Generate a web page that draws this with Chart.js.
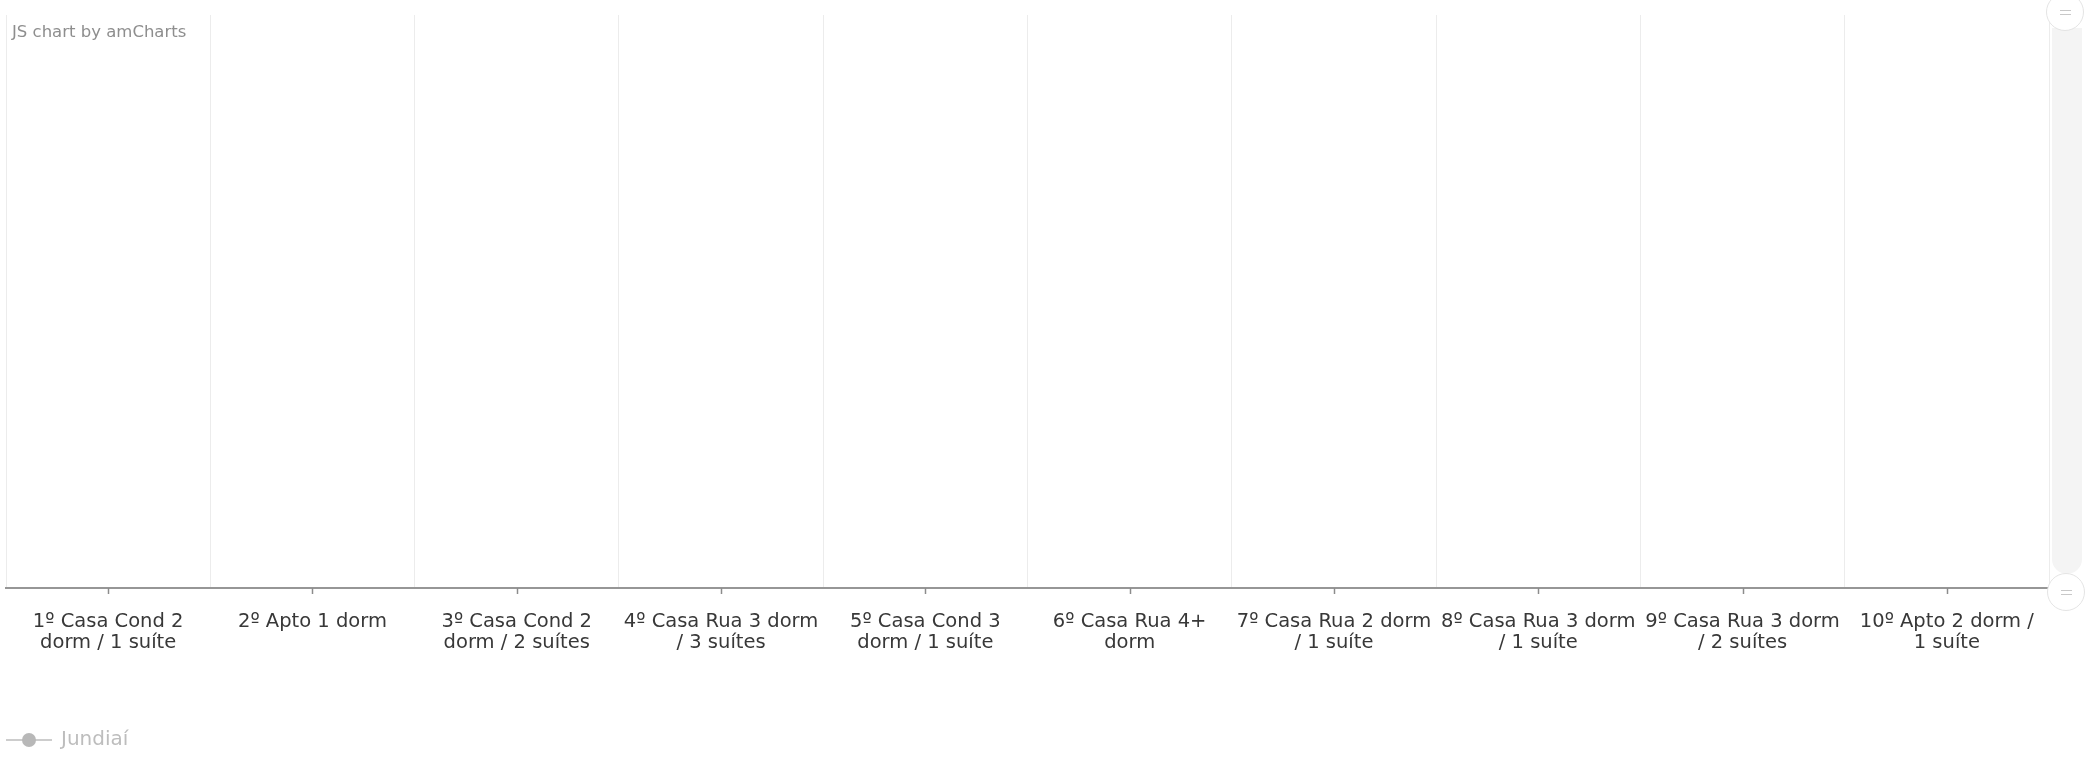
<!DOCTYPE html>
<html>
<head>
<meta charset="utf-8">
<script src="https://cdn.jsdelivr.net/npm/chart.js@4"></script>
<style>
  html, body { margin: 0; padding: 0; background: #fff; }
  #wrap { position: relative; width: 2087px; height: 763px; }
  #credit {
    position: absolute; left: 12px; top: 22px;
    font: 16.5px "DejaVu Sans", sans-serif; color: #8e8e8e;
  }
  .track {
    position: absolute; left: 2052px; top: 28px; width: 30px; height: 546px;
    background: #f4f4f4; border-radius: 0 0 15px 15px;
  }
  .grip {
    position: absolute; width: 38px; height: 38px; border-radius: 50%;
    background: #fff; border: 1px solid #e4e4e4; box-sizing: border-box;
  }
  .grip:before, .grip:after {
    content: ""; position: absolute; left: 13px; width: 11px; height: 1px; background: #c8c8c8;
  }
  .grip:before { top: 16px; }
  .grip:after { top: 20px; }
</style>
</head>
<body>
<div id="wrap">
  <canvas id="chart"></canvas>
  <div id="credit">JS chart by amCharts</div>
  <div class="track"></div>
  <div class="grip" style="left:2046px; top:-7px;"></div>
  <div class="grip" style="left:2047px; top:573px;"></div>
</div>
<script>
// categories (wrapped the way the labels appear)
let categories = [
  ["1º Casa Cond 2", "dorm / 1 suíte"],
  ["2º Apto 1 dorm"],
  ["3º Casa Cond 2", "dorm / 2 suítes"],
  ["4º Casa Rua 3 dorm", "/ 3 suítes"],
  ["5º Casa Cond 3", "dorm / 1 suíte"],
  ["6º Casa Rua 4+", "dorm"],
  ["7º Casa Rua 2 dorm", "/ 1 suíte"],
  ["8º Casa Rua 3 dorm", "/ 1 suíte"],
  ["9º Casa Rua 3 dorm", "/ 2 suítes"],
  ["10º Apto 2 dorm /", "1 suíte"],
];
// series is switched off in the legend, so no values are visible
let seriesName = "Jundiaí";
let jundiaiValues = [null, null, null, null, null, null, null, null, null, null];

// legend marker: short line with a dot in the middle
function makeMarker() {
  let c = document.createElement("canvas");
  c.width = 46;
  c.height = 16;
  let ctx = c.getContext("2d");
  ctx.strokeStyle = "#bdbdbd";
  ctx.lineWidth = 1.5;
  ctx.beginPath();
  ctx.moveTo(0, 8);
  ctx.lineTo(46, 8);
  ctx.stroke();
  ctx.fillStyle = "#b8b8b8";
  ctx.beginPath();
  ctx.arc(23, 8, 7, 0, Math.PI * 2);
  ctx.fill();
  return c;
}
let marker = makeMarker();

// small tick marks under the axis at every category centre
const centreTicks = {
  id: "centreTicks",
  afterDraw(chart) {
    let scale = chart.scales.x;
    let ctx = chart.ctx;
    ctx.save();
    ctx.strokeStyle = "#8c8c8c";
    ctx.lineWidth = 1.5;
    for (let i = 0; i < categories.length; i++) {
      let x = Math.round(scale.getPixelForTick(i)) + 0.5;
      ctx.beginPath();
      ctx.moveTo(x, scale.top);
      ctx.lineTo(x, scale.top + 6);
      ctx.stroke();
    }
    ctx.restore();
  },
};

Chart.defaults.font.family = '"DejaVu Sans", sans-serif';

let chart = new Chart("chart", {
  type: "line",
  data: {
    labels: categories,
    datasets: [
      {
        label: seriesName,
        data: jundiaiValues,
        hidden: true,
        borderColor: "#67b7dc",
        backgroundColor: "#67b7dc",
        pointStyle: "circle",
      },
    ],
  },
  plugins: [centreTicks],
  options: {
    responsive: true,
    maintainAspectRatio: false,
    animation: false,
    layout: {
      padding: { left: 6, right: 38, top: 15, bottom: 3 },
    },
    scales: {
      x: {
        offset: true,
        grid: {
          offset: true,
          color: "#ececec",
          lineWidth: 1,
          drawTicks: false,
        },
        border: { color: "#969696", width: 2 },
        ticks: {
          color: "#383838",
          padding: 23,
          maxRotation: 0,
          autoSkip: false,
          font: { size: 19.5, lineHeight: 1.1 },
        },
        afterFit(scale) {
          scale.height = 141;
        },
      },
      y: {
        display: false,
      },
    },
    plugins: {
      tooltip: { enabled: false },
      legend: {
        position: "bottom",
        align: "start",
        labels: {
          usePointStyle: true,
          pointStyleWidth: 44,
          padding: 1,
          font: { size: 20 },
          generateLabels(chart) {
            return chart.data.datasets.map(function (ds, i) {
              return {
                text: ds.label,
                datasetIndex: i,
                hidden: false,
                pointStyle: marker,
                fontColor: "#bdbdbd",
                fillStyle: "#bdbdbd",
                strokeStyle: "#bdbdbd",
                lineWidth: 0,
              };
            });
          },
        },
      },
    },
  },
});
</script>
</body>
</html>
